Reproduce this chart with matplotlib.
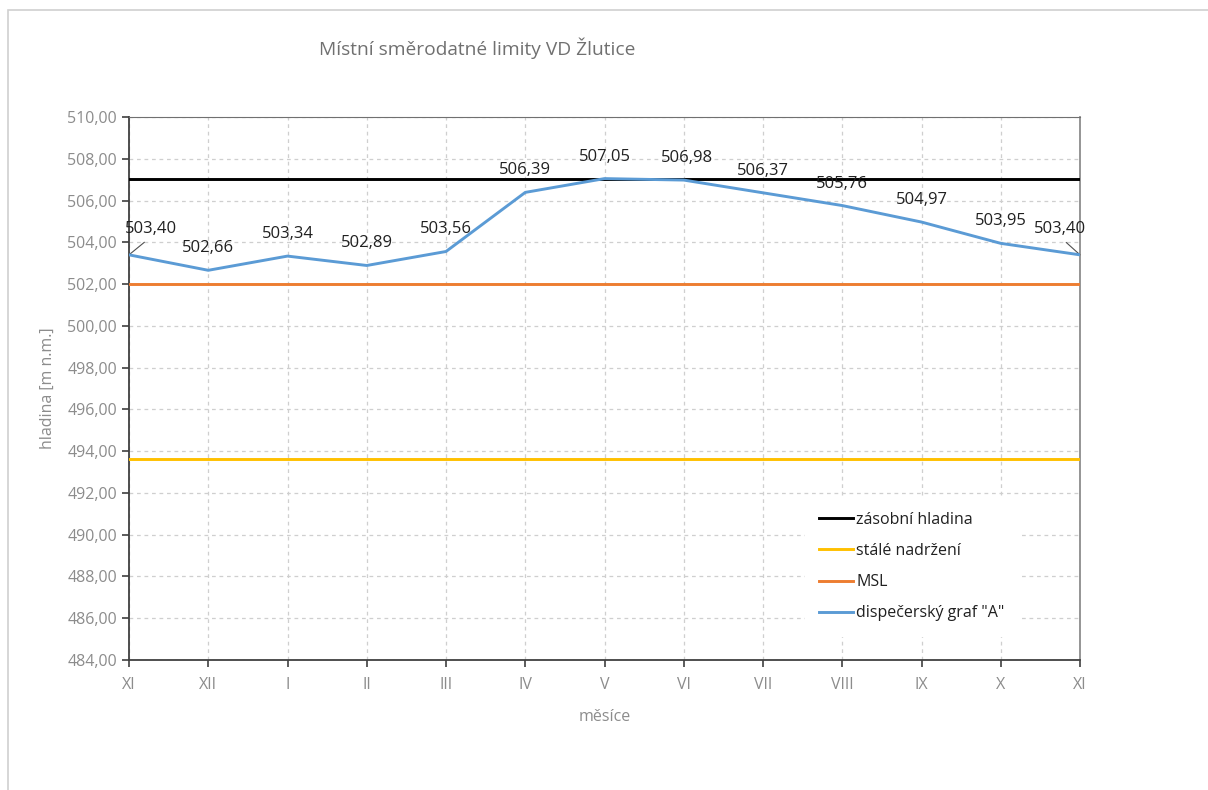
import matplotlib
matplotlib.use("Agg")
import matplotlib.pyplot as plt
from matplotlib.patches import Rectangle

plt.rcParams['font.family'] = ['Open Sans', 'DejaVu Sans']

months = ["XI", "XII", "I", "II", "III", "IV", "V", "VI", "VII", "VIII", "IX", "X", "XI"]
dispecersky = [503.40, 502.66, 503.34, 502.89, 503.56, 506.39, 507.05, 506.98,
               506.37, 505.76, 504.97, 503.95, 503.40]
zasobni_hladina = 507.05
stale_nadrzeni = 493.62
msl = 502.00
y_ticks = list(range(484, 511, 2))

fig = plt.figure(figsize=(12.08, 7.90), dpi=100)
W, H = 1208, 790
ax = fig.add_axes([129 / W, 1 - 660 / H, (1080 - 129) / W, (660 - 117) / H])

# outer chart frame
fig.patches.append(Rectangle((8 / W, -0.05), 1.1, 1 - 10 / H + 0.05,
                             transform=fig.transFigure, fill=False,
                             edgecolor='#d0d0d0', linewidth=1.2))

x = list(range(len(months)))
ax.plot(x, [zasobni_hladina] * len(x), color='#000000', lw=2.1, label='zásobní hladina', zorder=3)
ax.plot(x, [stale_nadrzeni] * len(x), color='#FFC000', lw=2.1, label='stálé nadržení', zorder=3)
ax.plot(x, [msl] * len(x), color='#ED7D31', lw=2.1, label='MSL', zorder=3)
ax.plot(x, dispecersky, color='#5B9BD5', lw=2.1, label='dispečerský graf "A"', zorder=4)

ax.set_xlim(0, len(x) - 1)
ax.set_ylim(484, 510)
ax.set_xticks(x)
ax.set_xticklabels(months)
ax.set_yticks(y_ticks)
ax.set_yticklabels([f"{v:.2f}".replace('.', ',') for v in y_ticks])
ax.tick_params(axis='both', colors='#404040', labelcolor='#8c8c8c', labelsize=11.5,
               direction='out', length=5, width=1.2)
ax.tick_params(axis='x', pad=7)

ax.grid(True, color='#cfcfcf', linestyle=(0, (3, 3)), linewidth=0.9)
ax.set_axisbelow(True)

ax.spines['left'].set_color('#404040')
ax.spines['bottom'].set_color('#404040')
ax.spines['left'].set_linewidth(1.3)
ax.spines['bottom'].set_linewidth(1.3)
ax.spines['top'].set_color('#707070')
ax.spines['right'].set_color('#8c8c8c')
ax.spines['right'].set_linewidth(1.3)

ax.set_ylabel('hladina [m n.m.]', color='#8c8c8c', fontsize=11.5, labelpad=8)
ax.set_xlabel('měsíce', color='#8c8c8c', fontsize=11.5, labelpad=12)

fig.text(477 / W, 1 - 48 / H, 'Místní směrodatné limity VD Žlutice',
         ha='center', va='center', fontsize=13.8, color='#707070')

# value labels; the end points get a leader line
for i, v in enumerate(dispecersky):
    txt = f"{v:.2f}".replace('.', ',')
    if i == 0 or i == len(dispecersky) - 1:
        dx = 22 if i == 0 else -20
        ax.annotate(txt, (i, v), xytext=(dx, 26), textcoords='offset pixels',
                    ha='center', va='center', fontsize=12, color='#202020',
                    annotation_clip=False,
                    arrowprops=dict(arrowstyle='-', color='#505050', lw=0.8,
                                    relpos=(0.5, 0.0), shrinkA=3, shrinkB=0))
    else:
        dx = 3 if i == 7 else 0
        ax.annotate(txt, (i, v), xytext=(dx, 22), textcoords='offset pixels',
                    ha='center', va='center', fontsize=12, color='#202020')

leg = ax.legend(loc='lower right', bbox_to_anchor=(0.944, 0.03), frameon=True,
                fontsize=11.5, handlelength=2.1, handletextpad=0.2,
                labelspacing=0.95, borderpad=0.9, fancybox=False)
leg.get_frame().set_facecolor('white')
leg.get_frame().set_edgecolor('white')
leg.get_frame().set_alpha(1.0)
for t in leg.get_texts():
    t.set_color('#202020')

fig.savefig('out.png', dpi=100)
